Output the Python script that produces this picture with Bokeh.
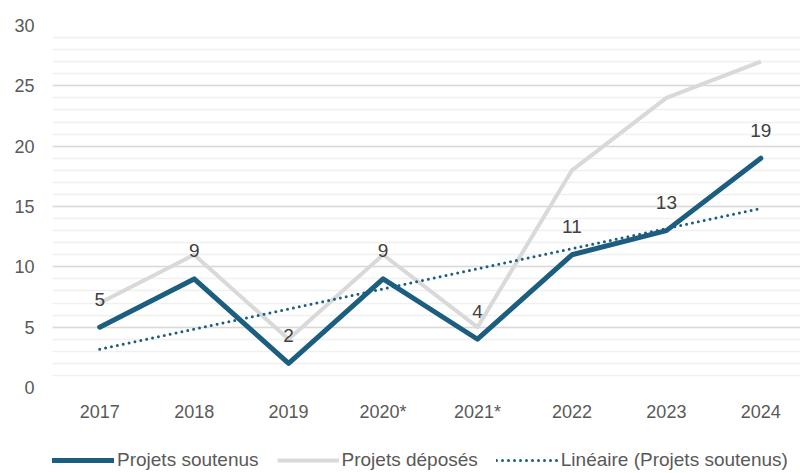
from bokeh.plotting import figure
from bokeh.layouts import column
from bokeh.models import ColumnDataSource, FixedTicker, Legend, LegendItem, Range1d, LabelSet
from bokeh.core.properties import value
from bokeh.embed import file_html
from bokeh.resources import INLINE

years = ["2017", "2018", "2019", "2020*", "2021*", "2022", "2023", "2024"]
soutenus = [5, 9, 2, 9, 4, 11, 13, 19]
deposes = [7, 11, 4, 11, 5, 18, 24, 27]

xs = list(range(len(years)))
n = len(xs)
mx = sum(xs) / n
my = sum(soutenus) / n
slope = sum((x - mx) * (y - my) for x, y in zip(xs, soutenus)) / sum((x - mx) ** 2 for x in xs)
trend = [my + slope * (x - mx) for x in xs]

src = ColumnDataSource(dict(x=xs, s=soutenus, d=deposes, t=trend, lab=[str(v) for v in soutenus]))

FONT = "Liberation Sans"
BLUE = "#1b5e80"
GREY = "#d9d9d9"

p = figure(output_backend="svg", toolbar_location=None,
           frame_width=748, frame_height=362,
           x_range=Range1d(-0.5, 7.42), y_range=Range1d(0, 30),
           min_border_left=52, min_border_right=0, min_border_top=25, min_border_bottom=50)
p.outline_line_color = None
p.background_fill_color = "white"

p.xgrid.grid_line_color = None
p.ygrid.grid_line_color = "#d9d9d9"
p.ygrid.grid_line_width = 1.5
p.ygrid.minor_grid_line_color = "#f0f0f0"
p.ygrid.minor_grid_line_width = 1.5

p.yaxis.ticker = FixedTicker(ticks=[0, 5, 10, 15, 20, 25, 30],
                             minor_ticks=list(range(0, 31)))
p.xaxis.ticker = FixedTicker(ticks=xs)
p.xaxis.major_label_overrides = {i: y for i, y in enumerate(years)}

for ax in (p.xaxis[0], p.yaxis[0]):
    ax.axis_line_color = None
    ax.major_tick_line_color = None
    ax.minor_tick_line_color = None
    ax.major_tick_out = 0
    ax.minor_tick_out = 0
    ax.major_label_text_color = "#595959"
    ax.major_label_text_font = FONT
    ax.major_label_text_font_size = "18px"
p.yaxis.major_label_standoff = 18
p.xaxis.major_label_standoff = 14

r_d = p.line("x", "d", source=src, line_color=GREY, line_width=4, line_join="round")
r_s = p.line("x", "s", source=src, line_color=BLUE, line_width=5, line_join="round", line_cap="round")
r_t = p.line("x", "t", source=src, line_color=BLUE, line_width=3, line_dash="0 6", line_cap="round")

labels = LabelSet(x="x", y="s", text="lab", source=src, y_offset=28, text_align="center",
                  text_baseline="middle", text_color="#404040", text_font=value(FONT),
                  text_font_size="19px")
p.add_layout(labels)

# legend strip below the chart (its lines lie outside the strip's ranges; only the legend shows)
lf = figure(output_backend="svg", toolbar_location=None, width=800, height=36,
            x_range=Range1d(0, 1), y_range=Range1d(0, 1),
            x_axis_type=None, y_axis_type=None,
            min_border_left=0, min_border_right=0, min_border_top=0, min_border_bottom=0)
lf.outline_line_color = None
lf.xgrid.grid_line_color = None
lf.ygrid.grid_line_color = None
l_s = lf.line(x="x", y="s", source=src, line_color=BLUE, line_width=5, line_cap="round")
l_d = lf.line(x="x", y="d", source=src, line_color=GREY, line_width=4)
l_t = lf.line(x="x", y="t", source=src, line_color=BLUE, line_width=3, line_dash="0 6", line_cap="round")

legend = Legend(items=[
    LegendItem(label="Projets soutenus", renderers=[l_s]),
    LegendItem(label="Projets déposés", renderers=[l_d]),
    LegendItem(label="Linéaire (Projets soutenus)", renderers=[l_t]),
], orientation="horizontal", location=(0, 2))
legend.label_text_font = FONT
legend.label_text_font_size = "19px"
legend.label_text_color = "#595959"
legend.glyph_width = 62
legend.glyph_height = 18
legend.label_height = 18
legend.spacing = 18
legend.label_standoff = 3
legend.border_line_color = None
legend.background_fill_alpha = 0
legend.padding = 0
legend.margin = 0
lf.add_layout(legend, "center")

layout = column(p, lf, spacing=0)
open("out.html", "w").write(file_html(layout, INLINE))
